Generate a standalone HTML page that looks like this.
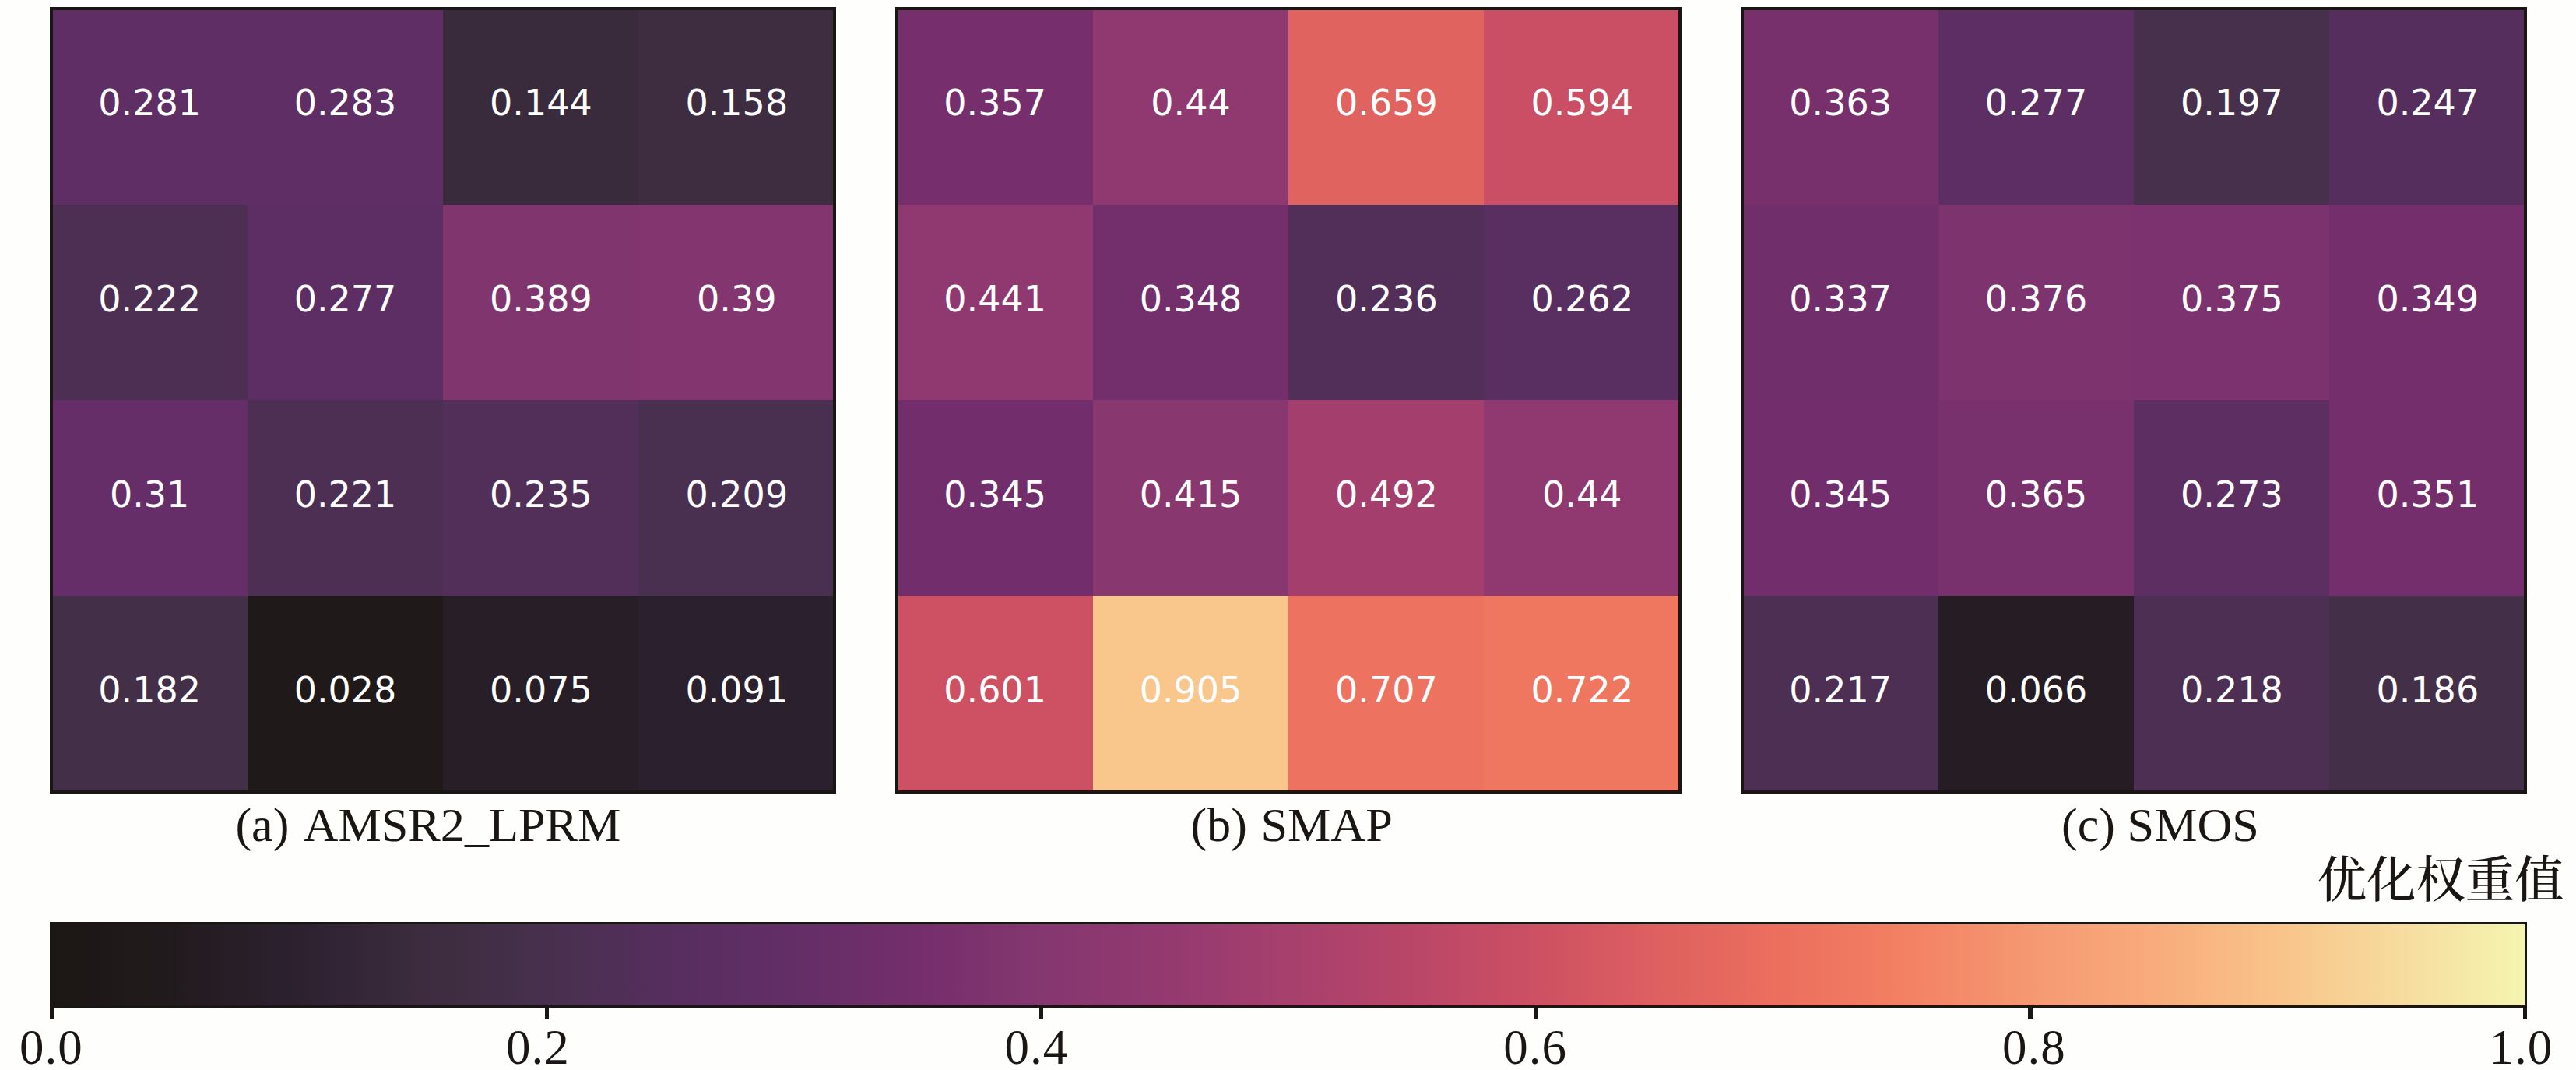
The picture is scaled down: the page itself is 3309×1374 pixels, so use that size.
<!DOCTYPE html>
<html lang="zh"><head><meta charset="utf-8"><title>优化权重值</title>
<style>
html,body{margin:0;padding:0}
body{width:3309px;height:1374px;background:#fefefc;position:relative;overflow:hidden;font-family:"Liberation Serif","Noto Serif CJK SC",serif;color:#1a1613}
.panel{position:absolute;top:9px;width:1010px;height:1010px}
.cell{position:absolute;color:#fff;font-family:"DejaVu Sans","Liberation Sans",sans-serif;font-size:46px;display:flex;align-items:center;justify-content:center;line-height:1}
.cell span{position:relative;top:-5.0px}
.frame{position:absolute;left:0;top:0;right:0;bottom:0;box-sizing:border-box;border:4.5px solid #1a1613}
.t{position:absolute;white-space:nowrap;line-height:1}
.title{font-size:62.2px;word-spacing:6px}
.tick{font-size:63px;letter-spacing:1px}
.tk{position:absolute;background:#1a1613;width:5.6px;top:1291px;height:18px}
</style></head><body>

<div class="panel" style="left:64px">
<div class="cell" style="left:2.25px;top:2.25px;width:251.88px;height:251.88px;background:#5e2e64"><span>0.281</span></div>
<div class="cell" style="left:253.62px;top:2.25px;width:251.88px;height:251.88px;background:#5f2e64"><span>0.283</span></div>
<div class="cell" style="left:505.00px;top:2.25px;width:251.88px;height:251.88px;background:#3a2b3c"><span>0.144</span></div>
<div class="cell" style="left:756.38px;top:2.25px;width:251.88px;height:251.88px;background:#3e2d40"><span>0.158</span></div>
<div class="cell" style="left:2.25px;top:253.62px;width:251.88px;height:251.88px;background:#4e2f54"><span>0.222</span></div>
<div class="cell" style="left:253.62px;top:253.62px;width:251.88px;height:251.88px;background:#5d2e63"><span>0.277</span></div>
<div class="cell" style="left:505.00px;top:253.62px;width:251.88px;height:251.88px;background:#81356e"><span>0.389</span></div>
<div class="cell" style="left:756.38px;top:253.62px;width:251.88px;height:251.88px;background:#82356e"><span>0.39</span></div>
<div class="cell" style="left:2.25px;top:505.00px;width:251.88px;height:251.88px;background:#662e68"><span>0.31</span></div>
<div class="cell" style="left:253.62px;top:505.00px;width:251.88px;height:251.88px;background:#4d2f54"><span>0.221</span></div>
<div class="cell" style="left:505.00px;top:505.00px;width:251.88px;height:251.88px;background:#522f59"><span>0.235</span></div>
<div class="cell" style="left:756.38px;top:505.00px;width:251.88px;height:251.88px;background:#4a3050"><span>0.209</span></div>
<div class="cell" style="left:2.25px;top:756.38px;width:251.88px;height:251.88px;background:#432f48"><span>0.182</span></div>
<div class="cell" style="left:253.62px;top:756.38px;width:251.88px;height:251.88px;background:#1f191a"><span>0.028</span></div>
<div class="cell" style="left:505.00px;top:756.38px;width:251.88px;height:251.88px;background:#281e27"><span>0.075</span></div>
<div class="cell" style="left:756.38px;top:756.38px;width:251.88px;height:251.88px;background:#2b202d"><span>0.091</span></div>
<div class="frame"></div></div>
<div class="panel" style="left:1150px">
<div class="cell" style="left:2.25px;top:2.25px;width:251.88px;height:251.88px;background:#762f6c"><span>0.357</span></div>
<div class="cell" style="left:253.62px;top:2.25px;width:251.88px;height:251.88px;background:#903970"><span>0.44</span></div>
<div class="cell" style="left:505.00px;top:2.25px;width:251.88px;height:251.88px;background:#e16360"><span>0.659</span></div>
<div class="cell" style="left:756.38px;top:2.25px;width:251.88px;height:251.88px;background:#cb4f64"><span>0.594</span></div>
<div class="cell" style="left:2.25px;top:253.62px;width:251.88px;height:251.88px;background:#903970"><span>0.441</span></div>
<div class="cell" style="left:253.62px;top:253.62px;width:251.88px;height:251.88px;background:#732e6c"><span>0.348</span></div>
<div class="cell" style="left:505.00px;top:253.62px;width:251.88px;height:251.88px;background:#522f59"><span>0.236</span></div>
<div class="cell" style="left:756.38px;top:253.62px;width:251.88px;height:251.88px;background:#592e60"><span>0.262</span></div>
<div class="cell" style="left:2.25px;top:505.00px;width:251.88px;height:251.88px;background:#722e6c"><span>0.345</span></div>
<div class="cell" style="left:253.62px;top:505.00px;width:251.88px;height:251.88px;background:#89386f"><span>0.415</span></div>
<div class="cell" style="left:505.00px;top:505.00px;width:251.88px;height:251.88px;background:#a43f6d"><span>0.492</span></div>
<div class="cell" style="left:756.38px;top:505.00px;width:251.88px;height:251.88px;background:#903970"><span>0.44</span></div>
<div class="cell" style="left:2.25px;top:756.38px;width:251.88px;height:251.88px;background:#cd5063"><span>0.601</span></div>
<div class="cell" style="left:253.62px;top:756.38px;width:251.88px;height:251.88px;background:#f9c68c"><span>0.905</span></div>
<div class="cell" style="left:505.00px;top:756.38px;width:251.88px;height:251.88px;background:#ed725f"><span>0.707</span></div>
<div class="cell" style="left:756.38px;top:756.38px;width:251.88px;height:251.88px;background:#ef7760"><span>0.722</span></div>
<div class="frame"></div></div>
<div class="panel" style="left:2236px">
<div class="cell" style="left:2.25px;top:2.25px;width:251.88px;height:251.88px;background:#78306d"><span>0.363</span></div>
<div class="cell" style="left:253.62px;top:2.25px;width:251.88px;height:251.88px;background:#5d2e63"><span>0.277</span></div>
<div class="cell" style="left:505.00px;top:2.25px;width:251.88px;height:251.88px;background:#46304c"><span>0.197</span></div>
<div class="cell" style="left:756.38px;top:2.25px;width:251.88px;height:251.88px;background:#552e5d"><span>0.247</span></div>
<div class="cell" style="left:2.25px;top:253.62px;width:251.88px;height:251.88px;background:#702e6b"><span>0.337</span></div>
<div class="cell" style="left:253.62px;top:253.62px;width:251.88px;height:251.88px;background:#7d336e"><span>0.376</span></div>
<div class="cell" style="left:505.00px;top:253.62px;width:251.88px;height:251.88px;background:#7c326e"><span>0.375</span></div>
<div class="cell" style="left:756.38px;top:253.62px;width:251.88px;height:251.88px;background:#742e6c"><span>0.349</span></div>
<div class="cell" style="left:2.25px;top:505.00px;width:251.88px;height:251.88px;background:#722e6c"><span>0.345</span></div>
<div class="cell" style="left:253.62px;top:505.00px;width:251.88px;height:251.88px;background:#79316d"><span>0.365</span></div>
<div class="cell" style="left:505.00px;top:505.00px;width:251.88px;height:251.88px;background:#5c2e62"><span>0.273</span></div>
<div class="cell" style="left:756.38px;top:505.00px;width:251.88px;height:251.88px;background:#742e6c"><span>0.351</span></div>
<div class="cell" style="left:2.25px;top:756.38px;width:251.88px;height:251.88px;background:#4c2f53"><span>0.217</span></div>
<div class="cell" style="left:253.62px;top:756.38px;width:251.88px;height:251.88px;background:#261d24"><span>0.066</span></div>
<div class="cell" style="left:505.00px;top:756.38px;width:251.88px;height:251.88px;background:#4c2f53"><span>0.218</span></div>
<div class="cell" style="left:756.38px;top:756.38px;width:251.88px;height:251.88px;background:#442f49"><span>0.186</span></div>
<div class="frame"></div></div>
<div class="t title" id="t0" style="left:302.4px;top:1027.6px;word-spacing:6px">(a) AMSR2_LPRM</div>
<div class="t title" id="t1" style="left:1529.4px;top:1027.6px;word-spacing:2px">(b) SMAP</div>
<div class="t title" id="t2" style="left:2648.0px;top:1027.6px;word-spacing:0px">(c) SMOS</div>
<div class="t title" id="cn" style="left:2976.7px;top:1100.4px;font-size:63.4px;font-weight:500">优化权重值</div>
<div id="cbar" style="position:absolute;left:64px;top:1184px;width:3182px;height:109.5px;box-sizing:border-box;border:3.5px solid #1a1613;background:linear-gradient(to right,#1b1714 0%,#221b1e 5%,#2d2130 10%,#3c2c3e 15%,#47304d 20%,#562e5e 25%,#632e67 30%,#742e6c 35%,#85376f 40%,#933970 45%,#a7406d 50%,#b94668 55%,#cd5063 60%,#de6060 65%,#ec6f5e 70%,#f38163 75%,#f59872 80%,#f8ab7c 85%,#f9c38a 90%,#f6dc9e 95%,#f5f5b0 100%)"></div>
<div class="tk" style="left:64.2px"></div>
<div class="tk" style="left:699.5px"></div>
<div class="tk" style="left:1334.8px"></div>
<div class="tk" style="left:1970.1px"></div>
<div class="tk" style="left:2605.4px"></div>
<div class="tk" style="left:3240.7px"></div>
<div class="t tick" id="k0" style="left:25px;top:1313.7px">0.0</div>
<div class="t tick" id="k1" style="left:650px;top:1313.7px">0.2</div>
<div class="t tick" id="k2" style="left:1290.4px;top:1313.7px">0.4</div>
<div class="t tick" id="k3" style="left:1931.2px;top:1313.7px">0.6</div>
<div class="t tick" id="k4" style="left:2572px;top:1313.7px">0.8</div>
<div class="t tick" id="k5" style="left:3197.4px;top:1313.7px">1.0</div>
</body></html>
